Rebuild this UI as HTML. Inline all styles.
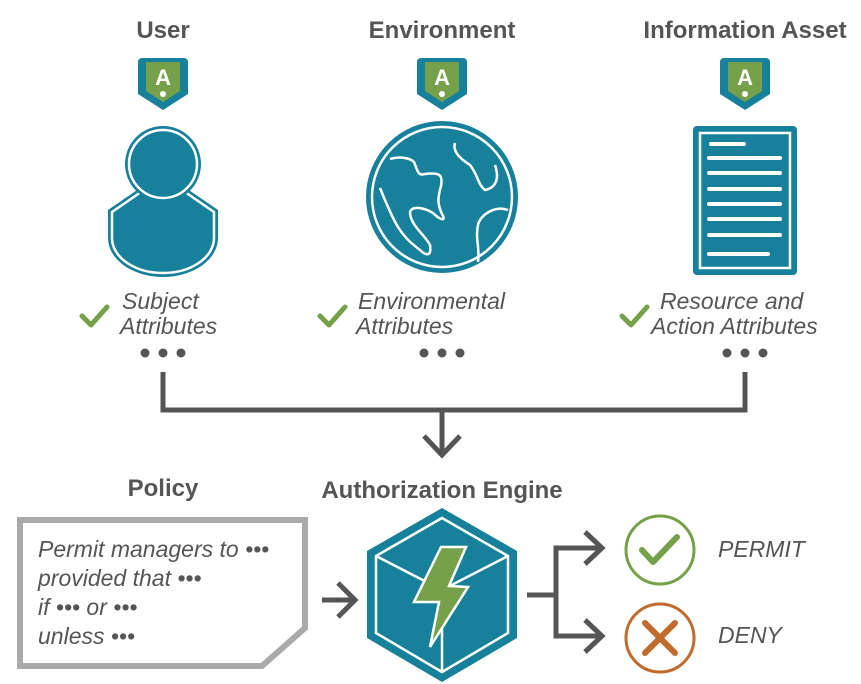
<!DOCTYPE html>
<html><head><meta charset="utf-8"><style>
html,body{margin:0;padding:0;background:#fff;}
svg{display:block;}
text{font-family:"Liberation Sans",sans-serif;fill:#555;}
.t{font-weight:bold;font-size:24px;text-anchor:middle;}
.i{font-style:italic;font-size:23px;}
</style></head><body>
<svg width="861" height="684" viewBox="0 0 861 684" xmlns="http://www.w3.org/2000/svg">
<defs>
<g id="badge">
<path d="M-21,-26 h42 a4,4 0 0 1 4,4 v32 l-25,16 l-25,-16 v-32 a4,4 0 0 1 4,-4z" fill="#17809b"/>
<path d="M-17,-22 h34 v29 l-17,11 l-17,-11z" fill="#76a04a"/>
<text x="0" y="1" text-anchor="middle" style="font-weight:bold;font-size:22px;fill:#fff">A</text>
<circle cx="0" cy="10" r="3" fill="#fff"/>
</g>
<g id="chk"><polyline points="-12,0 -3,9 13,-9" fill="none" stroke="#76a04a" stroke-width="5" stroke-linecap="round" stroke-linejoin="round"/></g>
</defs>

<text class="t" x="163" y="38">User</text>
<text class="t" x="442" y="38">Environment</text>
<text class="t" x="745" y="38">Information Asset</text>

<use href="#badge" x="163" y="84"/>
<use href="#badge" x="442" y="84"/>
<use href="#badge" x="745" y="84"/>

<!-- user -->
<path d="M108,210 L140,188 L186,188 L218,210 L218,238 A55,39 0 0 1 108,238Z" fill="#17809b"/>
<path d="M112,212 L141,192 L185,192 L214,212 L214,238 A51,35 0 0 1 112,238Z" fill="none" stroke="#fff" stroke-width="2.5"/>
<circle cx="163" cy="164" r="38" fill="#17809b"/>
<circle cx="163" cy="164" r="34" fill="#17809b" stroke="#fff" stroke-width="2.5"/>

<!-- globe -->
<circle cx="442" cy="197" r="76" fill="#17809b"/>
<circle cx="442" cy="197" r="70" fill="none" stroke="#fff" stroke-width="2.5"/>
<path d="M390,159 C400,156 410,158 414,162 C418,172 418,176 425,174 C440,172 443,175 441,186 C437,200 438,205 442,214 C447,222 440,220 433,213 C425,208 412,205 410,212 C410,225 425,235 430,245 C432,258 425,255 420,250 C400,235 395,225 380,188" fill="none" stroke="#fff" stroke-width="2.5"/>
<path d="M455,143 C452,152 462,160 470,165 C478,175 478,185 485,190 C495,188 500,180 495,165" fill="none" stroke="#fff" stroke-width="2.5"/>
<path d="M508,210 C495,205 480,215 478,225 C475,240 480,245 478,262" fill="none" stroke="#fff" stroke-width="2.5"/>

<!-- document -->
<rect x="693" y="126" width="104" height="149" rx="4" fill="#17809b"/>
<rect x="700" y="133" width="90" height="135" fill="none" stroke="#fff" stroke-width="2.5"/>
<g stroke="#fff" stroke-width="4" stroke-linecap="round">
<line x1="711" y1="144" x2="744" y2="144"/>
<line x1="709" y1="158" x2="780" y2="158"/>
<line x1="709" y1="173" x2="780" y2="173"/>
<line x1="709" y1="189" x2="780" y2="189"/>
<line x1="709" y1="204" x2="780" y2="204"/>
<line x1="709" y1="219" x2="780" y2="219"/>
<line x1="709" y1="235" x2="780" y2="235"/>
<line x1="709" y1="254" x2="768" y2="254"/>
</g>

<!-- attributes -->
<use href="#chk" x="94" y="316"/>
<text class="i" x="122" y="309">Subject</text>
<text class="i" x="120" y="334">Attributes</text>
<use href="#chk" x="332" y="316"/>
<text class="i" x="358" y="309">Environmental</text>
<text class="i" x="356" y="334">Attributes</text>
<use href="#chk" x="634" y="316"/>
<text class="i" x="660" y="309">Resource and</text>
<text class="i" x="651" y="334">Action Attributes</text>

<g fill="#555">
<circle cx="145" cy="353" r="4.5"/><circle cx="163" cy="353" r="4.5"/><circle cx="181" cy="353" r="4.5"/>
<circle cx="424" cy="353" r="4.5"/><circle cx="442" cy="353" r="4.5"/><circle cx="460" cy="353" r="4.5"/>
<circle cx="727" cy="353" r="4.5"/><circle cx="745" cy="353" r="4.5"/><circle cx="763" cy="353" r="4.5"/>
</g>

<g fill="none" stroke="#555" stroke-width="5">
<polyline points="163,372 163,410 745,410 745,372"/>
<line x1="442" y1="410" x2="442" y2="455"/>
<polyline points="424,436 442,455 460,436"/>
<line x1="322" y1="600" x2="354" y2="600"/>
<polyline points="338,583 355,600 338,617"/>
<polyline points="527,595 556,595"/>
<polyline points="600,548 556,548 556,636 600,636"/>
<polyline points="585,532 602,548 585,564"/>
<polyline points="585,620 602,636 585,652"/>
</g>

<text class="t" x="163" y="496">Policy</text>
<text class="t" x="442" y="498">Authorization Engine</text>

<!-- policy box -->
<path d="M20,520 H305 V628 L262,666 H20Z" fill="#fff" stroke="#aaa" stroke-width="6" stroke-linejoin="miter"/>
<text class="i" x="38" y="557">Permit managers to •••</text>
<text class="i" x="38" y="586">provided that •••</text>
<text class="i" x="38" y="615">if ••• or •••</text>
<text class="i" x="38" y="644">unless •••</text>

<!-- hexagon -->
<polygon points="442,508 517,551 517,638 442,682 367,638 367,551" fill="#17809b"/>
<polygon points="442,518 508,556 508,633 442,672 376,633 376,556" fill="none" stroke="#fff" stroke-width="2.5"/>
<polyline points="376,556 442,590 508,556" fill="none" stroke="#fff" stroke-width="2.5"/>
<line x1="442" y1="590" x2="442" y2="672" stroke="#fff" stroke-width="2.5"/>
<polygon points="441,547 466,547 449,586 468,587 430,647 439,602 414,602" fill="#76a04a" stroke="#fff" stroke-width="2.5"/>

<!-- results -->
<circle cx="660" cy="550" r="34" fill="none" stroke="#76a04a" stroke-width="3"/>
<polyline points="642,550 653,562 677,537" fill="none" stroke="#76a04a" stroke-width="6" stroke-linecap="round" stroke-linejoin="round"/>
<circle cx="660" cy="638" r="34" fill="none" stroke="#c06a2b" stroke-width="3"/>
<g stroke="#c06a2b" stroke-width="6" stroke-linecap="round">
<line x1="645" y1="623" x2="675" y2="653"/><line x1="675" y1="623" x2="645" y2="653"/>
</g>
<text class="i" x="718" y="557">PERMIT</text>
<text class="i" x="718" y="643">DENY</text>
</svg>
</body></html>
